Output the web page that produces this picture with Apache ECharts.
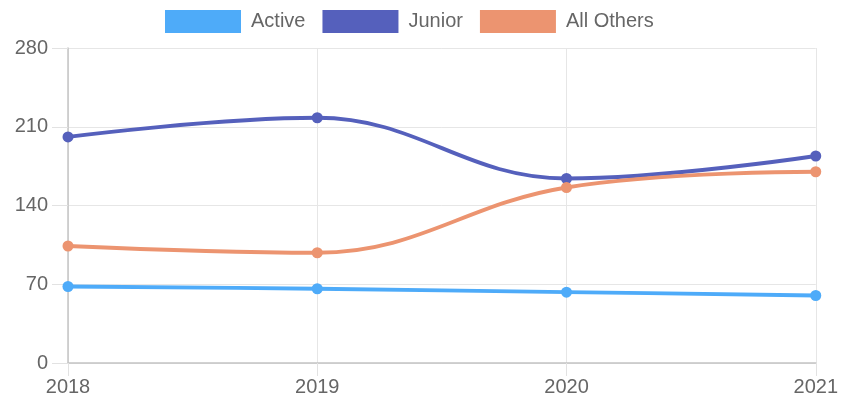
<!DOCTYPE html>
<html><head><meta charset="utf-8">
<script src="https://cdn.jsdelivr.net/npm/echarts@6/dist/echarts.min.js"></script>
<style>html,body{margin:0;padding:0;background:#fff}#c{width:841px;height:400px}</style>
</head><body><div id="c"></div>
<script>
const categories = ['2018', '2019', '2020', '2021'];
const activeValues = [68, 66, 63, 60];
const juniorValues = [201, 218, 164, 184];
const othersValues = [104, 98, 156, 170];
const yTicks = { min: 0, max: 280, interval: 70 };

const chart = echarts.init(document.getElementById('c'));
const font = 'Liberation Sans, Arial, sans-serif';
function series(name, data, color) {
  return {
    name, type: 'line', data, smooth: 0.4,
    symbol: 'circle', symbolSize: 11,
    lineStyle: { width: 3.8, color },
    itemStyle: { color },
    emphasis: { disabled: true }
  };
}
chart.setOption({
  animation: false,
  textStyle: { fontFamily: font },
  color: ['#4eabf9', '#5560bc', '#ec9470'],
  legend: {
    top: 5, left: 160,
    icon: 'rect', itemWidth: 76, itemHeight: 23, itemGap: 17,
    textStyle: { color: '#666', fontSize: 20, fontFamily: font, padding: [0, 0, 0, 5] },
    data: ['Active', 'Junior', 'All Others']
  },
  grid: { left: 68, right: 25, top: 48, bottom: 37, containLabel: false },
  xAxis: {
    type: 'category', data: categories, boundaryGap: false,
    axisLine: { show: true, lineStyle: { color: '#c4c4c4', width: 1.5 } },
    axisTick: { show: true, length: 13, lineStyle: { color: '#e2e2e2' } },
    axisLabel: { color: '#666', fontSize: 20, margin: 14, fontFamily: font,
      showMinLabel: true, showMaxLabel: true },
    splitLine: { show: true, lineStyle: { color: '#e6e6e6', width: 1 } }
  },
  yAxis: {
    type: 'value', min: yTicks.min, max: yTicks.max, interval: yTicks.interval,
    axisLine: { show: true, lineStyle: { color: '#c4c4c4', width: 1.5 } },
    axisTick: { show: true, length: 16, lineStyle: { color: '#e2e2e2' } },
    axisLabel: { color: '#666', fontSize: 20, margin: 20, fontFamily: font },
    splitLine: { show: true, lineStyle: { color: '#e6e6e6', width: 1 } }
  },
  series: [
    series('Active', activeValues, '#4eabf9'),
    series('Junior', juniorValues, '#5560bc'),
    series('All Others', othersValues, '#ec9470')
  ]
});
</script></body></html>
